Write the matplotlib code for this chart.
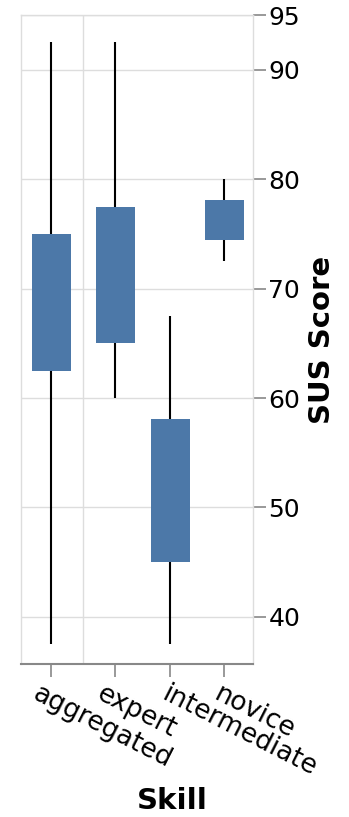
import numpy as np
import matplotlib.pyplot as plt
from matplotlib.transforms import blended_transform_factory, ScaledTranslation

# SUS score summary per skill group (whisker low, Q1, Q3, whisker high)
skills = ["aggregated", "expert", "intermediate", "novice"]
whisker_low = [37.5, 60.0, 37.5, 72.5]
q1 = [62.5, 65.0, 45.0, 74.4]
q3 = [75.0, 77.5, 58.1, 78.1]
whisker_high = [92.5, 92.5, 67.5, 80.0]
y_ticks = [40, 50, 60, 70, 80, 90, 95]

# layout (x in pixel-like units across the plot area)
x_pos = [30, 94, 149, 203]
label_dx = [-11, -11, 0, -2]  # nudge of each rotated label, px
box_w = 39
blue = "#4c78a8"
grid_c = "#dddddd"
axis_c = "#888888"

fig = plt.figure(figsize=(3.49, 8.17), dpi=100)
ax = fig.add_axes([21 / 349, 1 - 664 / 817, 232 / 349, 649 / 817])

for x, lo, a, b, hi in zip(x_pos, whisker_low, q1, q3, whisker_high):
    ax.vlines(x, lo, hi, color="black", lw=1.5, zorder=2)
    ax.bar(x, b - a, bottom=a, width=box_w, color=blue, zorder=3)

ax.set_xlim(0, 232)
ax.set_ylim(35.7, 95)

ax.set_yticks(y_ticks)
ax.yaxis.tick_right()
ax.yaxis.set_label_position("right")
ax.grid(axis="y", color=grid_c, lw=1.0, zorder=0)
ax.axvline(62, color=grid_c, lw=1.0, zorder=0)

# rotated category labels, drawn as text under each tick
ax.set_xticks(x_pos)
ax.set_xticklabels([])
base = blended_transform_factory(ax.transData, ax.transAxes)
for x, name, dx in zip(x_pos, skills, label_dx):
    tr = base + ScaledTranslation(dx / 100, -17 / 100, fig.dpi_scale_trans)
    ax.text(x, 0, name, transform=tr, rotation=-27, ha="left", va="top",
            rotation_mode="anchor", fontsize=19)
ax.tick_params(axis="x", length=9, width=1.2, color=axis_c, pad=3)
ax.tick_params(axis="y", length=9, width=1.2, color=axis_c, pad=2,
               labelsize=18)

for side in ["left", "top", "right"]:
    ax.spines[side].set_color(grid_c)
    ax.spines[side].set_linewidth(1.0)
ax.spines["bottom"].set_color(axis_c)
ax.spines["bottom"].set_linewidth(1.5)

xl = ax.set_xlabel("Skill", fontsize=21, fontweight="bold")
xl.set_va("center")
ax.xaxis.set_label_coords(0.651, -0.211)
yl = ax.set_ylabel("SUS Score", fontsize=21, fontweight="bold")
yl.set_va("center")
yl.set_ha("center")
ax.yaxis.set_label_coords(1.297, 0.5)

fig.savefig("out.png", dpi=100)
